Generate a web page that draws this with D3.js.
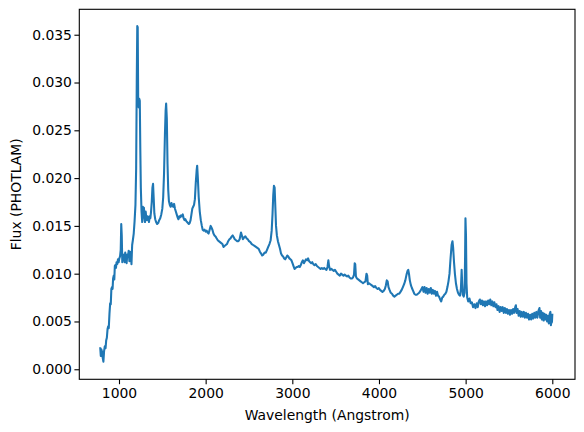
<!DOCTYPE html>
<html>
<head>
<meta charset="utf-8">
<script src="https://cdn.jsdelivr.net/npm/d3@7"></script>
<style>
  body { margin: 0; background: #fff; }
  text { font-family: "DejaVu Sans", sans-serif; }
</style>
</head>
<body>
<svg id="chart"></svg>
<script>
// spectrum (wavelength in Angstrom, flux in PHOTLAM)
const wavelength = [784,790,796,805,812,820,828,836,845,852,860,868,876,882,890,898,905,912,920,926,932,940,946,952,958,965,972,980,988,996,
1004,1012,1020,1026,1032,1038,1044,1050,1058,1065,1072,1080,1088,1096,1104,1112,1120,1128,1136,1144,1152,1160,1170,1180,1190,1198,1205,1211,1216,1222,
1228,1234,1240,1246,1252,1260,1268,1276,1282,1288,1294,1300,1308,1316,1322,1330,1338,1346,1354,1362,1370,1378,1386,1393,1400,1408,1418,1428,1440,1452,
1464,1476,1488,1500,1510,1520,1530,1538,1544,1552,1560,1568,1576,1586,1596,1606,1616,1626,1636,1646,1656,1666,1676,1686,1696,1706,1716,1726,1736,1746,
1756,1766,1776,1786,1796,1806,1816,1826,1836,1846,1856,1866,1876,1886,1896,1902,1910,1920,1932,1944,1956,1966,1976,1988,2000,2012,2022,2034,2046,2058,
2068,2078,2090,2102,2114,2126,2140,2152,2166,2180,2194,2206,2218,2232,2246,2260,2274,2288,2300,2312,2324,2336,2350,2364,2378,2392,2408,2418,2430,2444,
2458,2472,2486,2500,2516,2532,2548,2564,2580,2596,2612,2626,2640,2652,2666,2680,2694,2708,2722,2736,2750,2762,2772,2780,2788,2796,2804,2812,2822,2834,
2846,2858,2870,2882,2894,2906,2918,2930,2942,2954,2966,2978,2990,3002,3014,3026,3038,3050,3062,3074,3086,3098,3110,3122,3134,3146,3158,3170,3182,3194,
3206,3218,3230,3242,3256,3270,3284,3298,3312,3326,3340,3354,3368,3380,3394,3406,3416,3424,3436,3450,3464,3478,3492,3506,3520,3534,3548,3562,3576,3590,
3604,3618,3632,3646,3660,3674,3688,3700,3712,3720,3726,3734,3746,3760,3774,3788,3802,3816,3830,3844,3856,3864,3872,3886,3900,3914,3928,3942,3956,3970,
3984,3998,4012,4026,4040,4054,4068,4080,4090,4100,4110,4122,4136,4150,4164,4178,4192,4206,4220,4234,4248,4262,4276,4290,4304,4318,4330,4338,4346,4356,
4368,4380,4394,4408,4422,4436,4450,4464,4478,4490,4502,4514,4526,4538,4550,4562,4574,4586,4598,4610,4622,4634,4646,4658,4670,4682,4694,4706,4718,4730,
4742,4754,4766,4778,4790,4802,4814,4826,4838,4848,4856,4866,4876,4888,4900,4912,4924,4936,4946,4954,4960,4968,4978,4988,4994,4998,5004,5010,5018,5030,
5044,5058,5072,5086,5100,5114,5128,5140,5152,5164,5176,5188,5200,5212,5224,5236,5248,5260,5272,5284,5296,5308,5320,5332,5344,5356,5368,5380,5392,5404,
5416,5428,5440,5452,5464,5476,5488,5500,5512,5524,5536,5548,5560,5572,5580,5588,5600,5612,5624,5636,5648,5660,5672,5684,5696,5708,5720,5732,5744,5756,
5768,5780,5792,5804,5816,5828,5840,5852,5860,5870,5880,5890,5900,5910,5920,5930,5940,5950,5960,5970,5978,5984,5990,5996,6000];

const flux = [0.0022,0.0014,0.0021,0.0018,0.0012,0.0008,0.0019,0.0024,0.0022,0.0030,0.0033,0.0042,0.0045,0.0043,0.0058,0.0069,0.0068,0.0084,0.0086,0.0084,0.0095,0.0098,0.0094,0.0108,0.0109,0.0106,0.0112,0.0110,0.0115,0.0112,
0.0116,0.0118,0.0125,0.0152,0.0140,0.0112,0.0118,0.0114,0.0120,0.0112,0.0122,0.0116,0.0111,0.0120,0.0118,0.0124,0.0113,0.0123,0.0121,0.0110,0.0130,0.0135,0.0142,0.0155,0.0172,0.0210,0.0300,0.0359,0.0358,0.0275,
0.0274,0.0283,0.0281,0.0230,0.0190,0.0165,0.0154,0.0170,0.0162,0.0169,0.0158,0.0154,0.0165,0.0158,0.0156,0.0160,0.0158,0.0154,0.0160,0.0158,0.0165,0.0175,0.0190,0.0194,0.0180,0.0163,0.0157,0.0154,0.0152,0.0153,
0.0156,0.0158,0.0162,0.0168,0.0180,0.0205,0.0245,0.0270,0.0278,0.0262,0.0215,0.0188,0.0176,0.0172,0.0170,0.0174,0.0171,0.0170,0.0173,0.0168,0.0165,0.0162,0.0159,0.0157,0.0160,0.0159,0.0161,0.0160,0.0162,0.0158,
0.0156,0.0157,0.0155,0.0154,0.0153,0.0152,0.0153,0.0156,0.0162,0.0168,0.0170,0.0172,0.0178,0.0195,0.0208,0.0213,0.0200,0.0180,0.0165,0.0156,0.0150,0.0146,0.0145,0.0146,0.0144,0.0145,0.0143,0.0142,0.0146,0.0150,
0.0148,0.0146,0.0142,0.0140,0.0139,0.0137,0.0135,0.0134,0.0133,0.0132,0.0131,0.0128,0.0129,0.0130,0.0131,0.0134,0.0136,0.0137,0.0139,0.0140,0.0138,0.0136,0.0135,0.0134,0.0134,0.0136,0.0143,0.0140,0.0136,0.0138,
0.0139,0.0137,0.0136,0.0134,0.0133,0.0131,0.0130,0.0129,0.0128,0.0127,0.0126,0.0123,0.0121,0.0119,0.0120,0.0122,0.0122,0.0125,0.0128,0.0131,0.0135,0.0145,0.0163,0.0182,0.0192,0.0190,0.0170,0.0150,0.0140,0.0134,
0.0130,0.0126,0.0121,0.0119,0.0118,0.0116,0.0115,0.0117,0.0119,0.0118,0.0116,0.0115,0.0114,0.0111,0.0108,0.0105,0.0106,0.0107,0.0107,0.0108,0.0107,0.0109,0.0112,0.0114,0.0111,0.0113,0.0115,0.0114,0.0116,0.0113,
0.0112,0.0111,0.0112,0.0110,0.0109,0.0110,0.0108,0.0107,0.0106,0.0105,0.0106,0.0105,0.0106,0.0105,0.0104,0.0107,0.0114,0.0108,0.0104,0.0105,0.0104,0.0103,0.0104,0.0102,0.0100,0.0099,0.0098,0.0100,0.0099,0.0098,
0.0099,0.0098,0.0097,0.0098,0.0096,0.0095,0.0095,0.0096,0.0099,0.0111,0.0110,0.0097,0.0095,0.0094,0.0093,0.0092,0.0091,0.0090,0.0091,0.0092,0.0100,0.0098,0.0089,0.0090,0.0089,0.0088,0.0087,0.0086,0.0087,0.0085,
0.0084,0.0085,0.0083,0.0082,0.0081,0.0082,0.0084,0.0088,0.0093,0.0092,0.0086,0.0083,0.0080,0.0079,0.0077,0.0076,0.0077,0.0078,0.0079,0.0079,0.0081,0.0083,0.0086,0.0089,0.0093,0.0099,0.0103,0.0104,0.0100,0.0093,
0.0088,0.0085,0.0082,0.0079,0.0078,0.0078,0.0079,0.0080,0.0082,0.0084,0.0086,0.0081,0.0086,0.0080,0.0085,0.0079,0.0084,0.0080,0.0085,0.0079,0.0083,0.0079,0.0082,0.0077,0.0081,0.0077,0.0076,0.0073,0.0071,0.0075,
0.0076,0.0078,0.0079,0.0081,0.0086,0.0092,0.0100,0.0116,0.0130,0.0134,0.0127,0.0112,0.0100,0.0090,0.0084,0.0080,0.0078,0.0077,0.0085,0.0104,0.0090,0.0078,0.0076,0.0080,0.0120,0.0158,0.0140,0.0090,0.0075,0.0071,
0.0074,0.0069,0.0070,0.0065,0.0068,0.0064,0.0069,0.0065,0.0071,0.0073,0.0068,0.0072,0.0067,0.0071,0.0066,0.0071,0.0067,0.0072,0.0068,0.0073,0.0067,0.0071,0.0066,0.0070,0.0065,0.0068,0.0062,0.0066,0.0060,0.0065,
0.0061,0.0065,0.0059,0.0064,0.0059,0.0063,0.0058,0.0062,0.0057,0.0062,0.0058,0.0063,0.0059,0.0065,0.0067,0.0059,0.0063,0.0056,0.0061,0.0055,0.0060,0.0055,0.0060,0.0054,0.0059,0.0054,0.0058,0.0052,0.0057,0.0052,
0.0058,0.0053,0.0059,0.0054,0.0060,0.0054,0.0061,0.0064,0.0054,0.0061,0.0052,0.0059,0.0051,0.0058,0.0052,0.0057,0.0050,0.0056,0.0048,0.0058,0.0060,0.0046,0.0056,0.0049,0.0057];

const xTicks = [1000, 2000, 3000, 4000, 5000, 6000];
const yTicks = [0.000, 0.005, 0.010, 0.015, 0.020, 0.025, 0.030, 0.035];

if (wavelength.length !== flux.length) {
    throw new Error("length mismatch " + wavelength.length + " vs " + flux.length);
}

const width = 584, height = 432;
const plotLeft = 79.3, plotRight = 575, plotTop = 9.3, plotBottom = 379.3;

const svg = d3.select("#chart")
    .attr("width", width)
    .attr("height", height);

const x = d3.scaleLinear()
    .domain([542, 6262])
    .range([plotLeft, plotRight]);

const y = d3.scaleLinear()
    .domain([-0.00105, 0.03766])
    .range([plotBottom, plotTop]);

const data = wavelength.map((w, i) => ({w: w, f: flux[i]}));

const line = d3.line()
    .x(d => x(d.w))
    .y(d => y(d.f));

svg.append("path")
    .datum(data)
    .attr("d", line)
    .attr("fill", "none")
    .attr("stroke", "#1f77b4")
    .attr("stroke-width", 2.08)
    .attr("stroke-linejoin", "round")
    .attr("stroke-linecap", "square");

const xAxis = svg.append("g")
    .attr("transform", `translate(0,${plotBottom})`)
    .call(d3.axisBottom(x).tickValues(xTicks).tickFormat(d3.format("d")).tickSize(4.9).tickPadding(3.5));

const yAxis = svg.append("g")
    .attr("transform", `translate(${plotLeft},0)`)
    .call(d3.axisLeft(y).tickValues(yTicks).tickFormat(d3.format(".3f")).tickSize(4.9).tickPadding(2.5));

[xAxis, yAxis].forEach(g => {
    g.select(".domain").remove();
    g.selectAll("line").attr("stroke", "#000").attr("stroke-width", 1.1);
    g.selectAll("text").attr("fill", "#000").style("font-size", "13.9px").style("font-family", "DejaVu Sans");
});

// frame
svg.append("rect")
    .attr("x", plotLeft)
    .attr("y", plotTop)
    .attr("width", plotRight - plotLeft)
    .attr("height", plotBottom - plotTop)
    .attr("fill", "none")
    .attr("stroke", "#000")
    .attr("stroke-width", 1.1);

svg.append("text")
    .attr("x", (plotLeft + plotRight) / 2)
    .attr("y", 419.5)
    .attr("text-anchor", "middle")
    .style("font-size", "13.9px")
    .text("Wavelength (Angstrom)");

svg.append("text")
    .attr("transform", `translate(21,${(plotTop + plotBottom) / 2}) rotate(-90)`)
    .attr("text-anchor", "middle")
    .style("font-size", "13.9px")
    .text("Flux (PHOTLAM)");
</script>
</body>
</html>
